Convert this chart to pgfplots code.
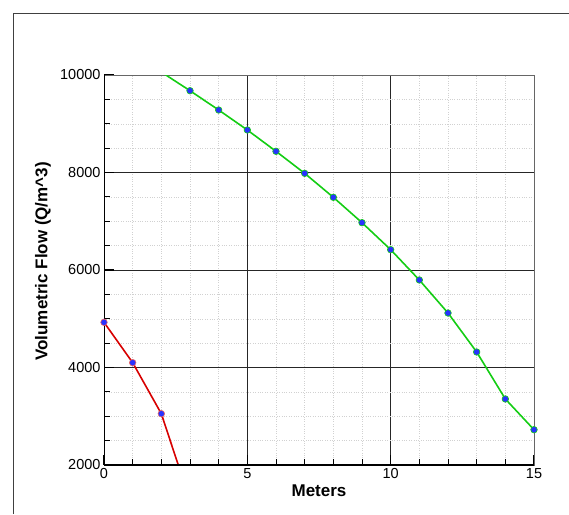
\documentclass[border=0pt]{standalone}
\usepackage{fontspec}
\setmainfont{Liberation Sans}
\usepackage{pgfplots}
\pgfplotsset{compat=1.18}

\definecolor{flowgreen}{RGB}{20,205,20}
\definecolor{flowred}{RGB}{215,0,0}
\definecolor{ptblue}{RGB}{40,50,255}

\pgfplotstableread{
x y
2 10060
3 9678
4 9282
5 8872
6 8435
7 7983
8 7491
9 6971
10 6417
11 5795
12 5118
13 4318
14 3354
15 2724
}\greendata

\pgfplotstableread{
x y
0 4927
1 4099
2 3052
3 1270
}\reddata

\begin{document}
\begin{tikzpicture}
\useasboundingbox (0,0) rectangle (569pt,514pt);
\draw[black!75, line width=1pt] (13pt,0) -- (13pt,500pt) -- (569pt,500pt);
\begin{axis}[
    at={(104pt,49pt)}, anchor=south west,
    width=430pt, height=390pt, scale only axis,
    xmin=0, xmax=15, ymin=2000, ymax=10000,
    xtick={0,5,10,15},
    ytick={2000,4000,6000,8000,10000},
    minor x tick num=4,
    minor y tick num=3,
    scaled y ticks=false,
    /pgf/number format/1000 sep={},
    /pgf/number format/assume math mode=true,
    ticklabel style={font=\fontsize{14.5}{17}\selectfont},
    xtick pos=bottom, ytick pos=left,
    tick align=inside,
    major tick length=10pt, minor tick length=6pt,
    major tick style={black, line width=1.6pt},
    minor tick style={black, line width=0.8pt},
    grid=both,
    major grid style={black!85, line width=0.9pt},
    minor grid style={black!18, dotted, line width=0.4pt},
    axis line style={black!60, line width=0.9pt},
    xlabel={Meters},
    ylabel={Volumetric Flow (Q/m\textasciicircum 3)},
    label style={font=\fontsize{17}{20}\selectfont\bfseries},
    xlabel style={at={(axis description cs:0.5,-0.082)}, anchor=base},
    ylabel style={at={(axis description cs:-0.142,0.522)}, anchor=center},
]
\addplot[flowgreen, line width=1.6pt, mark=none] table[x=x, y=y] {\greendata};
\addplot[only marks, mark=*, mark size=3.3pt, restrict y to domain=2000:10000,
    mark options={fill=ptblue, draw=flowgreen, line width=0.6pt}] table[x=x, y=y] {\greendata};
\addplot[flowred, line width=1.6pt, mark=none] table[x=x, y=y] {\reddata};
\addplot[only marks, mark=*, mark size=3.3pt, restrict y to domain=2000:10000,
    mark options={fill=ptblue, draw=flowred!60, line width=0.6pt}] table[x=x, y=y] {\reddata};
\draw[black, line width=2pt] (rel axis cs:0,1) -- (rel axis cs:0,0) -- (rel axis cs:1,0);
\end{axis}
\end{tikzpicture}
\end{document}
